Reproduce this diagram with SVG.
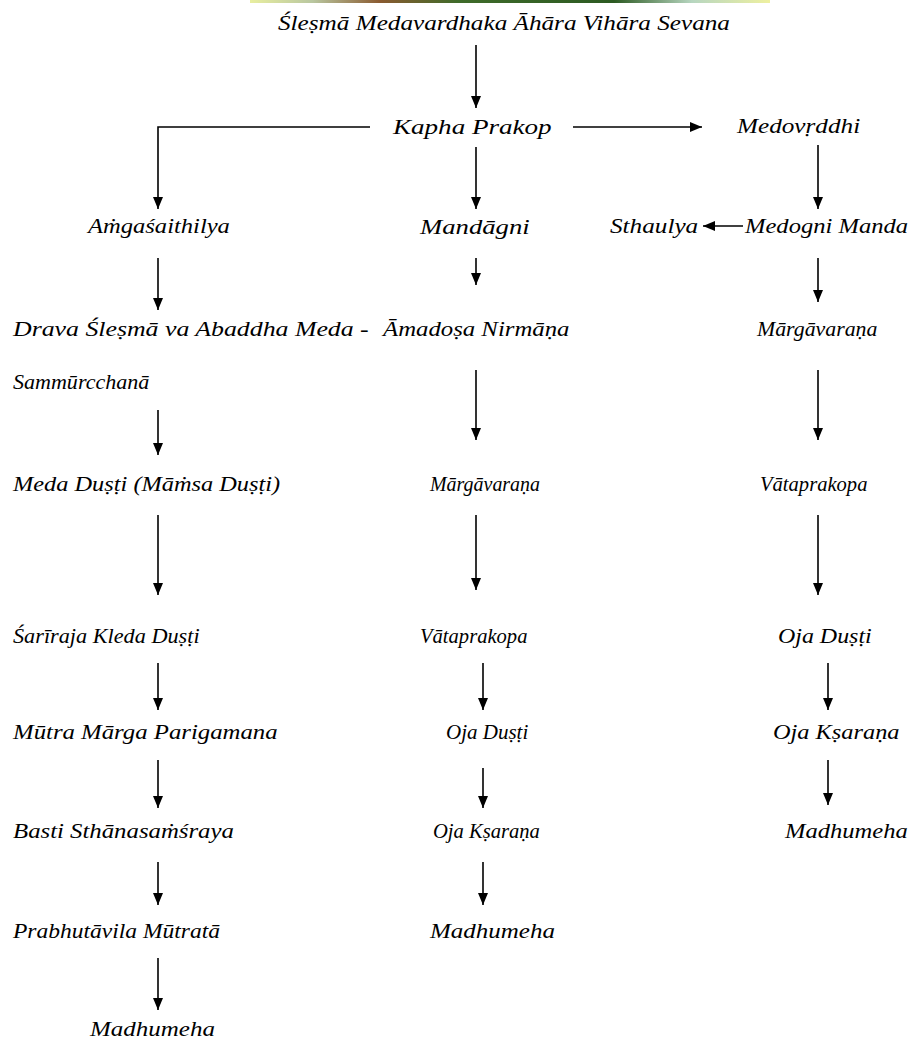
<svg xmlns="http://www.w3.org/2000/svg" width="913" height="1046" viewBox="0 0 913 1046">
<style>
.c{stroke:#000;stroke-width:1.6;fill:none}
</style>
<defs>
<marker id="ah" viewBox="0 0 12 10" refX="12" refY="5" markerWidth="12" markerHeight="10" markerUnits="userSpaceOnUse" orient="auto"><path d="M0,0 L12,5 L0,10 z" fill="#000"/></marker>
<linearGradient id="strip" x1="0" x2="1" y1="0" y2="0">
<stop offset="0" stop-color="#e8eea0"/><stop offset="0.12" stop-color="#b9c7a0"/><stop offset="0.25" stop-color="#8a5a30"/><stop offset="0.4" stop-color="#3f6b2a"/><stop offset="0.7" stop-color="#2c5a22"/><stop offset="0.85" stop-color="#b7d6c0"/><stop offset="1" stop-color="#eef0a0"/>
</linearGradient>
</defs>
<rect x="250" y="0" width="520" height="3" fill="url(#strip)"/>
<g id="connectors">
<path class="c" d="M476,45 V108" marker-end="url(#ah)"/>
<path class="c" d="M370,127 H158 V209" marker-end="url(#ah)"/>
<path class="c" d="M573,127 H702" marker-end="url(#ah)"/>
<path class="c" d="M476,147 V209" marker-end="url(#ah)"/>
<path class="c" d="M818,145 V209" marker-end="url(#ah)"/>
<path class="c" d="M743,226 H703" marker-end="url(#ah)"/>
<path class="c" d="M158,258 V310" marker-end="url(#ah)"/>
<path class="c" d="M476,258 V285" marker-end="url(#ah)"/>
<path class="c" d="M818,258 V302" marker-end="url(#ah)"/>
<path class="c" d="M158,410 V455" marker-end="url(#ah)"/>
<path class="c" d="M476,370 V440" marker-end="url(#ah)"/>
<path class="c" d="M818,370 V440" marker-end="url(#ah)"/>
<path class="c" d="M158,515 V595" marker-end="url(#ah)"/>
<path class="c" d="M476,515 V590" marker-end="url(#ah)"/>
<path class="c" d="M818,515 V595" marker-end="url(#ah)"/>
<path class="c" d="M158,663 V710" marker-end="url(#ah)"/>
<path class="c" d="M483,663 V710" marker-end="url(#ah)"/>
<path class="c" d="M828,663 V710" marker-end="url(#ah)"/>
<path class="c" d="M158,760 V808" marker-end="url(#ah)"/>
<path class="c" d="M483,768 V808" marker-end="url(#ah)"/>
<path class="c" d="M828,760 V805" marker-end="url(#ah)"/>
<path class="c" d="M158,862 V905" marker-end="url(#ah)"/>
<path class="c" d="M483,862 V905" marker-end="url(#ah)"/>
<path class="c" d="M158,958 V1010" marker-end="url(#ah)"/>
</g>
<g id="nodes" font-family="Liberation Serif, Times New Roman, serif" font-style="italic" font-size="21" fill="#000">
<g id="n-top"><text transform="translate(278,30) scale(1.2,1)">Śleṣmā Medavardhaka Āhāra Vihāra Sevana</text></g>
<g id="n-kapha"><text transform="translate(393,134) scale(1.29,1)">Kapha Prakop</text></g>
<g id="n-medovrddhi"><text transform="translate(737,133) scale(1.2,1)">Medovṛddhi</text></g>
<g id="n-amga"><text transform="translate(88,233) scale(1.17,1)">Aṁgaśaithilya</text></g>
<g id="n-mandagni"><text transform="translate(420,234) scale(1.27,1)">Mandāgni</text></g>
<g id="n-sthaulya"><text transform="translate(610,233) scale(1.2,1)">Sthaulya</text></g>
<g id="n-medogni"><text transform="translate(745,233) scale(1.17,1)">Medogni Manda</text></g>
<g id="n-drava"><text transform="translate(13,336) scale(1.23,1)">Drava Śleṣmā va Abaddha Meda -</text><text transform="translate(13,389) scale(1.05,1)">Sammūrcchanā</text></g>
<g id="n-amadosa"><text transform="translate(383,336) scale(1.18,1)">Āmadoṣa Nirmāṇa</text></g>
<g id="n-marga-r"><text transform="translate(757,336) scale(1.04,1)">Mārgāvaraṇa</text></g>
<g id="n-meda"><text transform="translate(13,491) scale(1.16,1)">Meda Duṣṭi (Māṁsa Duṣṭi)</text></g>
<g id="n-marga-m"><text transform="translate(430,491) scale(0.95,1)">Mārgāvaraṇa</text></g>
<g id="n-vata-r"><text transform="translate(760,491) scale(0.98,1)">Vātaprakopa</text></g>
<g id="n-sarira"><text transform="translate(13,643) scale(1.06,1)">Śarīraja Kleda Duṣṭi</text></g>
<g id="n-vata-m"><text transform="translate(420,643) scale(0.98,1)">Vātaprakopa</text></g>
<g id="n-oja-r"><text transform="translate(778,643) scale(1.14,1)">Oja Duṣṭi</text></g>
<g id="n-mutra"><text transform="translate(13,739) scale(1.18,1)">Mūtra Mārga Parigamana</text></g>
<g id="n-oja-m"><text transform="translate(446,739) scale(1,1)">Oja Duṣṭi</text></g>
<g id="n-ksarana-r"><text transform="translate(773,739) scale(1.16,1)">Oja Kṣaraṇa</text></g>
<g id="n-basti"><text transform="translate(13,838) scale(1.18,1)">Basti Sthānasaṁśraya</text></g>
<g id="n-ksarana-m"><text transform="translate(433,838) scale(0.98,1)">Oja Kṣaraṇa</text></g>
<g id="n-madhu-r"><text transform="translate(785,838) scale(1.17,1)">Madhumeha</text></g>
<g id="n-prabhu"><text transform="translate(13,938) scale(1.12,1)">Prabhutāvila Mūtratā</text></g>
<g id="n-madhu-m"><text transform="translate(430,938) scale(1.19,1)">Madhumeha</text></g>
<g id="n-madhu-l"><text transform="translate(90,1036) scale(1.19,1)">Madhumeha</text></g>
</g>
</svg>
